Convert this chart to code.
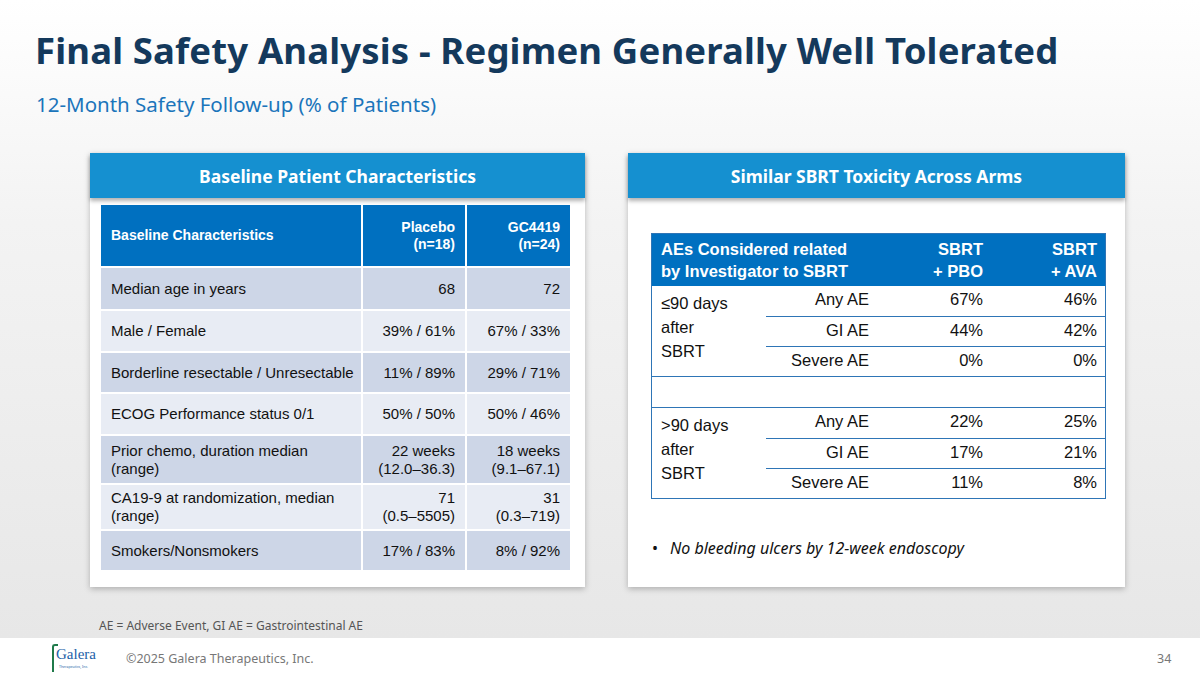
import React from 'react';

const baselineHeader = ['Baseline Characteristics', 'Placebo\n(n=18)', 'GC4419\n(n=24)'];
const baselineLabels = [
  'Median age in years',
  'Male / Female',
  'Borderline resectable / Unresectable',
  'ECOG Performance status 0/1',
  'Prior chemo, duration median\n(range)',
  'CA19-9 at randomization, median\n(range)',
  'Smokers/Nonsmokers',
];
const placeboValues = ['68', '39% / 61%', '11% / 89%', '50% / 50%', '22 weeks\n(12.0–36.3)', '71\n(0.5–5505)', '17% / 83%'];
const gc4419Values = ['72', '67% / 33%', '29% / 71%', '50% / 46%', '18 weeks\n(9.1–67.1)', '31\n(0.3–719)', '8% / 92%'];

const aeHeader = ['AEs Considered related\nby Investigator to SBRT', 'SBRT\n+ PBO', 'SBRT\n+ AVA'];
const aeGroups = ['≤90 days\nafter\nSBRT', '>90 days\nafter\nSBRT'];
const aeTypes = ['Any AE', 'GI AE', 'Severe AE'];
const pboEarly = ['67%', '44%', '0%'];
const avaEarly = ['46%', '42%', '0%'];
const pboLate = ['22%', '17%', '11%'];
const avaLate = ['25%', '21%', '8%'];

const ARIAL = '"Liberation Sans", Arial, sans-serif';
const SANS = '"Noto Sans", "Open Sans", sans-serif';
const NAVY = '#14395c';
const CARD_BLUE = '#1590d0';
const HEAD_BLUE = '#0070c0';
const LINE_BLUE = '#2e75b6';

const leftRowHeights = [41, 40, 39, 40, 47, 44, 39];

function lines(s: string) {
  return s.split('\n').map((t, i) => <div key={i}>{t}</div>);
}

function CardHeader({ x, w, text }: { x: number; w: number; text: string }) {
  return (
    <div
      style={{
        position: 'absolute',
        left: x,
        top: 153,
        width: w,
        height: 45,
        background: CARD_BLUE,
        color: '#fff',
        fontFamily: SANS,
        fontWeight: 700,
        fontSize: 17.5,
        display: 'flex',
        alignItems: 'center',
        justifyContent: 'center',
        boxShadow: '0 3px 4px rgba(0,0,0,0.3)',
        zIndex: 2,
      }}
    >
      {text}
    </div>
  );
}

function BaselineTable() {
  const cols = [262, 104, 105];
  let y = 268;
  return (
    <div style={{ position: 'absolute', left: 101, top: 205, fontFamily: ARIAL }}>
      <div style={{ position: 'absolute', left: 0, top: 0, display: 'flex' }}>
        {baselineHeader.map((h, i) => (
          <div
            key={i}
            style={{
              width: cols[i] - 2,
              marginRight: 2,
              height: 61,
              background: HEAD_BLUE,
              color: '#fff',
              fontWeight: 700,
              fontSize: 14,
              lineHeight: '17px',
              display: 'flex',
              flexDirection: 'column',
              justifyContent: 'center',
              alignItems: i === 0 ? 'flex-start' : 'flex-end',
              textAlign: i === 0 ? 'left' : 'right',
              padding: '0 10px',
              boxSizing: 'border-box',
            }}
          >
            {lines(h)}
          </div>
        ))}
      </div>
      {baselineLabels.map((label, r) => {
        const top = y - 205;
        const h = leftRowHeights[r];
        y += h + 2;
        const cells = [label, placeboValues[r], gc4419Values[r]];
        return (
          <div key={r} style={{ position: 'absolute', left: 0, top, display: 'flex' }}>
            {cells.map((c, i) => (
              <div
                key={i}
                style={{
                  width: cols[i] - 2,
                  marginRight: 2,
                  height: h,
                  background: r % 2 === 0 ? '#cdd6e7' : '#e8ecf4',
                  color: '#111',
                  fontSize: 15,
                  lineHeight: '18px',
                  display: 'flex',
                  flexDirection: 'column',
                  justifyContent: 'center',
                  alignItems: i === 0 ? 'flex-start' : 'flex-end',
                  textAlign: i === 0 ? 'left' : 'right',
                  padding: '0 10px',
                  boxSizing: 'border-box',
                  whiteSpace: 'nowrap',
                }}
              >
                {lines(c)}
              </div>
            ))}
          </div>
        );
      })}
    </div>
  );
}

function AeTable() {
  const rowH = 30;
  const groupsData = [
    { label: aeGroups[0], pbo: pboEarly, ava: avaEarly },
    { label: aeGroups[1], pbo: pboLate, ava: avaLate },
  ];
  const tableW = 455;
  return (
    <div
      style={{
        position: 'absolute',
        left: 651,
        top: 233,
        width: tableW,
        border: `1.5px solid ${LINE_BLUE}`,
        boxSizing: 'border-box',
        fontFamily: ARIAL,
        background: '#fff',
      }}
    >
      <div
        style={{
          height: 52,
          background: HEAD_BLUE,
          color: '#fff',
          fontWeight: 700,
          fontSize: 16.5,
          lineHeight: '22px',
          position: 'relative',
        }}
      >
        <div style={{ position: 'absolute', left: 9, top: 4 }}>{lines(aeHeader[0])}</div>
        <div style={{ position: 'absolute', right: 122, top: 4, textAlign: 'right' }}>{lines(aeHeader[1])}</div>
        <div style={{ position: 'absolute', right: 8, top: 4, textAlign: 'right' }}>{lines(aeHeader[2])}</div>
      </div>
      {groupsData.map((g, gi) => (
        <React.Fragment key={gi}>
          {gi > 0 && <div style={{ height: rowH, borderTop: `1.5px solid ${LINE_BLUE}`, borderBottom: `1.5px solid ${LINE_BLUE}` }} />}
          <div style={{ position: 'relative', height: rowH * 3, fontSize: 16.5, color: '#111' }}>
            <div style={{ position: 'absolute', left: 9, top: 5, lineHeight: '24px' }}>{lines(g.label)}</div>
            {aeTypes.map((t, i) => (
              <div
                key={i}
                style={{
                  position: 'absolute',
                  left: 114,
                  right: 0,
                  top: i * rowH,
                  height: rowH,
                  borderTop: i > 0 ? `1.5px solid ${LINE_BLUE}` : 'none',
                  boxSizing: 'border-box',
                }}
              >
                <div style={{ position: 'absolute', right: 236, top: 4 }}>{t}</div>
                <div style={{ position: 'absolute', right: 122, top: 4 }}>{g.pbo[i]}</div>
                <div style={{ position: 'absolute', right: 8, top: 4 }}>{g.ava[i]}</div>
              </div>
            ))}
          </div>
        </React.Fragment>
      ))}
    </div>
  );
}

export default function App() {
  return (
    <div
      style={{
        position: 'absolute',
        left: 0,
        top: 0,
        width: 1200,
        height: 675,
        overflow: 'hidden',
        background: '#fff',
      }}
    >
      <div
        style={{
          position: 'absolute',
          left: 0,
          top: 0,
          width: 1200,
          height: 638,
          background: 'linear-gradient(180deg, #ffffff 0%, #f3f3f3 35%, #e7e7e7 100%)',
        }}
      />
      <div
        style={{
          position: 'absolute',
          left: 35,
          top: 25,
          fontFamily: SANS,
          fontWeight: 700,
          fontSize: 36.5,
          color: NAVY,
          whiteSpace: 'nowrap',
          letterSpacing: 0.15,
        }}
      >
        Final Safety Analysis - Regimen Generally Well Tolerated
      </div>
      <div
        style={{
          position: 'absolute',
          left: 36,
          top: 90,
          fontFamily: SANS,
          fontSize: 20.5,
          color: '#1b75bb',
          whiteSpace: 'nowrap',
        }}
      >
        12-Month Safety Follow-up (% of Patients)
      </div>

      <div
        style={{
          position: 'absolute',
          left: 90,
          top: 153,
          width: 495,
          height: 434,
          background: '#fff',
          boxShadow: '0 2px 6px rgba(0,0,0,0.25)',
        }}
      />
      <div
        style={{
          position: 'absolute',
          left: 628,
          top: 153,
          width: 497,
          height: 434,
          background: '#fff',
          boxShadow: '0 2px 6px rgba(0,0,0,0.25)',
        }}
      />
      <CardHeader x={90} w={495} text="Baseline Patient Characteristics" />
      <CardHeader x={628} w={497} text="Similar SBRT Toxicity Across Arms" />
      <BaselineTable />
      <AeTable />

      <div
        style={{
          position: 'absolute',
          left: 670,
          top: 537,
          fontFamily: SANS,
          fontStyle: 'italic',
          fontSize: 16,
          color: '#111',
          whiteSpace: 'nowrap',
        }}
      >
        <span style={{ position: 'absolute', left: -18, fontStyle: 'normal' }}>•</span>
        No bleeding ulcers by 12-week endoscopy
      </div>

      <div
        style={{
          position: 'absolute',
          left: 99,
          top: 617,
          fontFamily: SANS,
          fontSize: 12,
          color: '#555',
          whiteSpace: 'nowrap',
        }}
      >
        AE = Adverse Event, GI AE = Gastrointestinal AE
      </div>

      <div style={{ position: 'absolute', left: 52, top: 643, width: 50, height: 28 }}>
        <div
          style={{
            position: 'absolute',
            left: 0,
            top: 1,
            width: 4,
            height: 26,
            borderLeft: '2px solid #1f7a4a',
            borderTop: '2px solid #1f7a4a',
            borderRadius: '3px 0 0 0',
          }}
        />
        <div
          style={{
            position: 'absolute',
            left: 4,
            top: 3,
            fontFamily: '"Liberation Serif", serif',
            fontSize: 15,
            color: '#1d5fa8',
          }}
        >
          Galera
        </div>
        <div style={{ position: 'absolute', left: 7, top: 21, fontSize: 3.5, color: '#1d5fa8', fontFamily: SANS }}>
          Therapeutics, Inc.
        </div>
      </div>
      <div
        style={{
          position: 'absolute',
          left: 126,
          top: 650,
          fontFamily: SANS,
          fontSize: 12.5,
          color: '#777',
          whiteSpace: 'nowrap',
        }}
      >
        ©2025 Galera Therapeutics, Inc.
      </div>
      <div
        style={{
          position: 'absolute',
          left: 1157,
          top: 650,
          fontFamily: SANS,
          fontSize: 12.5,
          color: '#777',
        }}
      >
        34
      </div>
    </div>
  );
}
